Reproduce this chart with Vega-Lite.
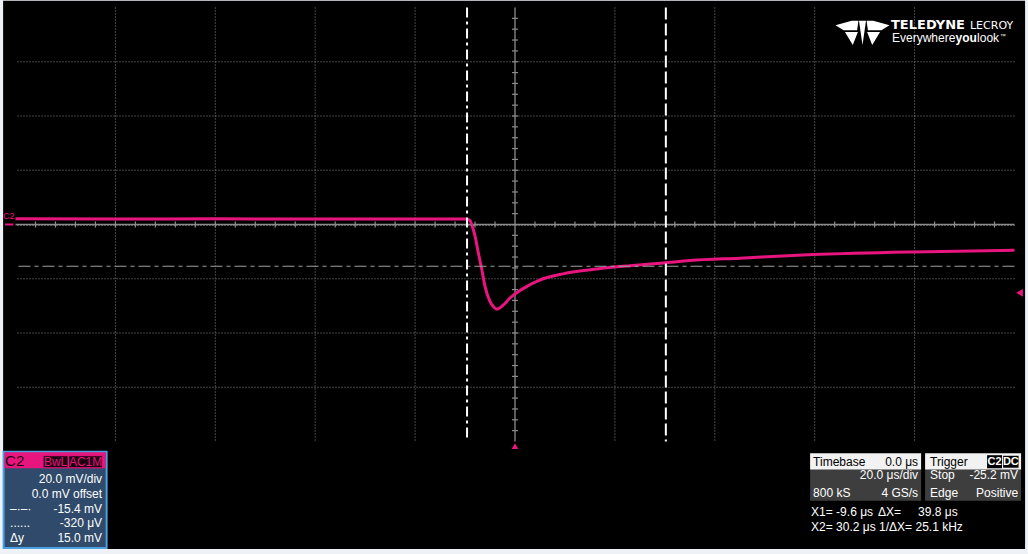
{
  "$schema": "https://vega.github.io/schema/vega-lite/v6.json",
  "width": 999,
  "height": 434,
  "autosize": "none",
  "padding": {"left": 15.5, "top": 7.5, "right": 13.5, "bottom": 112.5},
  "background": "#eef2f7",
  "config": {
    "view": {"stroke": "#808080", "strokeWidth": 1.5, "fill": "#000000"},
    "text": {"font": "Liberation Sans"}
  },
  "data": {"values": [{}]},
  "datasets": {
    "trace": [
      {"t": -100, "v": 2.1}, {"t": -80, "v": 2.0}, {"t": -60, "v": 2.1}, {"t": -40, "v": 2.0},
      {"t": -20, "v": 2.0}, {"t": -9.8, "v": 2.0}, {"t": -9.0, "v": 1.5}, {"t": -8.6, "v": -0.4},
      {"t": -8.0, "v": -4.3}, {"t": -7.33, "v": -10.5}, {"t": -6.65, "v": -16.6}, {"t": -6.0, "v": -22.8},
      {"t": -5.0, "v": -28.4}, {"t": -4.3, "v": -30.3}, {"t": -3.64, "v": -31.2}, {"t": -3.0, "v": -30.7},
      {"t": -2.3, "v": -29.6}, {"t": -1.0, "v": -27.1}, {"t": 0.7, "v": -24.7}, {"t": 2.4, "v": -22.8},
      {"t": 4.7, "v": -20.7}, {"t": 9.6, "v": -18.2}, {"t": 16.4, "v": -16.4}, {"t": 23.0, "v": -15.2},
      {"t": 29.7, "v": -14.2}, {"t": 35.0, "v": -13.3}, {"t": 45.0, "v": -12.4}, {"t": 59.7, "v": -11.1},
      {"t": 79.7, "v": -10.1}, {"t": 100, "v": -9.5}
    ],
    "xgrid": [{"t": -80}, {"t": -60}, {"t": -40}, {"t": -20}, {"t": 20}, {"t": 40}, {"t": 60}, {"t": 80}],
    "ygrid": [{"v": -60}, {"v": -40}, {"v": -20}, {"v": 20}, {"v": 40}, {"v": 60}],
    "xticks": [
      {"t": -96}, {"t": -92}, {"t": -88}, {"t": -84}, {"t": -80}, {"t": -76}, {"t": -72}, {"t": -68},
      {"t": -64}, {"t": -60}, {"t": -56}, {"t": -52}, {"t": -48}, {"t": -44}, {"t": -40}, {"t": -36},
      {"t": -32}, {"t": -28}, {"t": -24}, {"t": -20}, {"t": -16}, {"t": -12}, {"t": -8}, {"t": -4},
      {"t": 4}, {"t": 8}, {"t": 12}, {"t": 16}, {"t": 20}, {"t": 24}, {"t": 28}, {"t": 32},
      {"t": 36}, {"t": 40}, {"t": 44}, {"t": 48}, {"t": 52}, {"t": 56}, {"t": 60}, {"t": 64},
      {"t": 68}, {"t": 72}, {"t": 76}, {"t": 80}, {"t": 84}, {"t": 88}, {"t": 92}, {"t": 96}
    ],
    "yticks": [
      {"v": -76}, {"v": -72}, {"v": -68}, {"v": -64}, {"v": -60}, {"v": -56}, {"v": -52}, {"v": -48},
      {"v": -44}, {"v": -40}, {"v": -36}, {"v": -32}, {"v": -28}, {"v": -24}, {"v": -20}, {"v": -16},
      {"v": -12}, {"v": -8}, {"v": -4}, {"v": 4}, {"v": 8}, {"v": 12}, {"v": 16}, {"v": 20},
      {"v": 24}, {"v": 28}, {"v": 32}, {"v": 36}, {"v": 40}, {"v": 44}, {"v": 48}, {"v": 52},
      {"v": 56}, {"v": 60}, {"v": 64}, {"v": 68}, {"v": 72}, {"v": 76}
    ],
    "boxes": [
      {"g": "c2frame", "t": -102.38, "t2": -81.76, "v": -83.76, "v2": -119.26},
      {"g": "c2head", "t": -102.18, "t2": -81.96, "v": -84.0, "v2": -89.86},
      {"g": "pbadge", "t": -94.47, "t2": -89.47, "v": -85.24, "v2": -89.68},
      {"g": "pbadge", "t": -89.37, "t2": -82.56, "v": -85.24, "v2": -89.68},
      {"g": "thead", "t": 59.08, "t2": 81.30, "v": -84.31, "v2": -90.42},
      {"g": "thead", "t": 82.10, "t2": 101.32, "v": -84.31, "v2": -90.42},
      {"g": "tbody", "t": 59.08, "t2": 81.30, "v": -90.42, "v2": -101.88},
      {"g": "tbody", "t": 82.10, "t2": 101.32, "v": -90.42, "v2": -101.88},
      {"g": "wbadge", "t": 94.51, "t2": 97.52, "v": -85.05, "v2": -89.86},
      {"g": "dcbadge", "t": 97.62, "t2": 100.92, "v": -85.05, "v2": -89.86}
    ],
    "labels": [
      {"g": "cr", "t": -82.66, "v": -93.93, "text": "20.0 mV/div"},
      {"g": "cr", "t": -82.66, "v": -99.29, "text": "0.0 mV offset"},
      {"g": "cr", "t": -82.66, "v": -104.84, "text": "-15.4 mV"},
      {"g": "cr", "t": -82.66, "v": -110.20, "text": "-320 μV"},
      {"g": "cr", "t": -82.66, "v": -115.56, "text": "15.0 mV"},
      {"g": "cl", "t": -101.08, "v": -104.84, "text": "–·–·"},
      {"g": "cl", "t": -101.08, "v": -110.20, "text": "......"},
      {"g": "cl", "t": -101.08, "v": -115.56, "text": "Δy"},
      {"g": "hl", "t": 59.68, "v": -87.53, "text": "Timebase"},
      {"g": "hl", "t": 83.10, "v": -87.53, "text": "Trigger"},
      {"g": "hr", "t": 80.70, "v": -87.53, "text": "0.0 μs"},
      {"g": "wr", "t": 80.70, "v": -92.45, "text": "20.0 μs/div"},
      {"g": "wr", "t": 80.70, "v": -99.0, "text": "4 GS/s"},
      {"g": "wr", "t": 100.72, "v": -92.45, "text": "-25.2 mV"},
      {"g": "wr", "t": 100.72, "v": -99.0, "text": "Positive"},
      {"g": "wl", "t": 59.68, "v": -99.0, "text": "800 kS"},
      {"g": "wl", "t": 83.10, "v": -92.45, "text": "Stop"},
      {"g": "wl", "t": 83.10, "v": -99.0, "text": "Edge"},
      {"g": "wl", "t": 59.28, "v": -106.02, "text": "X1= -9.6 μs"},
      {"g": "wl", "t": 72.69, "v": -106.02, "text": "ΔX="},
      {"g": "wl", "t": 80.70, "v": -106.02, "text": "39.8 μs"},
      {"g": "wl", "t": 59.28, "v": -111.68, "text": "X2= 30.2 μs"},
      {"g": "wl", "t": 72.89, "v": -111.68, "text": "1/ΔX= 25.1 kHz"},
      {"g": "pb", "t": -91.97, "v": -87.46, "text": "BwL"},
      {"g": "pb", "t": -85.97, "v": -87.46, "text": "AC1M"},
      {"g": "wb", "t": 96.02, "v": -87.46, "text": "C2"},
      {"g": "wb", "t": 99.27, "v": -87.46, "text": "DC"},
      {"g": "big", "t": -102.08, "v": -87.35, "text": "C2"},
      {"g": "mark", "t": -102.48, "v": 3.14, "text": "C2"},
      {"g": "logob", "t": 75.27, "v": 72.1, "text": "TELEDYNE"},
      {"g": "logor", "t": 91.09, "v": 72.1, "text": "LECROY"},
      {"g": "logos", "t": 75.47, "v": 67.4, "text": "Everywhere"},
      {"g": "logosb", "t": 88.21, "v": 67.4, "text": "you"},
      {"g": "logos", "t": 92.51, "v": 67.4, "text": "look"},
      {"g": "tm", "t": 97.07, "v": 68.8, "text": "™"}
    ]
  },
  "encoding": {
    "x": {"type": "quantitative", "scale": {"domain": [-100, 100], "nice": false, "zero": false}, "axis": null},
    "y": {"type": "quantitative", "scale": {"domain": [-80, 80], "nice": false, "zero": false}, "axis": null}
  },
  "layer": [
    {
      "mark": {"type": "rect", "fill": "#000000"},
      "encoding": {"x": {"datum": -102.48}, "x2": {"datum": 102.12}, "y": {"datum": 82.47}, "y2": {"datum": -119.6}}
    },
    {
      "data": {"name": "xgrid"},
      "mark": {"type": "rule", "stroke": "#8a8a8a", "strokeWidth": 1, "strokeDash": [1, 2]},
      "encoding": {"x": {"field": "t", "type": "quantitative"}}
    },
    {
      "data": {"name": "ygrid"},
      "mark": {"type": "rule", "stroke": "#8a8a8a", "strokeWidth": 1, "strokeDash": [1, 2]},
      "encoding": {"y": {"field": "v", "type": "quantitative"}}
    },
    {
      "mark": {"type": "rule", "stroke": "#8c8c8c", "strokeWidth": 1.3},
      "encoding": {"x": {"datum": 0}}
    },
    {
      "mark": {"type": "rule", "stroke": "#8c8c8c", "strokeWidth": 1.3},
      "encoding": {"y": {"datum": 0}}
    },
    {
      "data": {"name": "xticks"},
      "mark": {"type": "tick", "orient": "vertical", "color": "#8c8c8c", "size": 6, "thickness": 1.2, "opacity": 1},
      "encoding": {"x": {"field": "t", "type": "quantitative"}, "y": {"datum": 0}}
    },
    {
      "data": {"name": "yticks"},
      "mark": {"type": "tick", "orient": "horizontal", "color": "#8c8c8c", "size": 6, "thickness": 1.2, "opacity": 1},
      "encoding": {"y": {"field": "v", "type": "quantitative"}, "x": {"datum": 0}}
    },
    {
      "data": {"name": "trace"},
      "mark": {"type": "line", "color": "#e8157f", "strokeWidth": 3, "interpolate": "monotone"},
      "encoding": {"x": {"field": "t", "type": "quantitative"}, "y": {"field": "v", "type": "quantitative"}}
    },
    {
      "mark": {"type": "rule", "stroke": "#a0a0a0", "strokeWidth": 1.2, "strokeDash": [12, 4, 4, 4]},
      "encoding": {"y": {"datum": -15.4}}
    },
    {
      "mark": {"type": "rule", "stroke": "#a0a0a0", "strokeWidth": 1, "strokeDash": [1, 2]},
      "encoding": {"y": {"datum": -0.32}}
    },
    {
      "mark": {"type": "rule", "stroke": "#ffffff", "strokeWidth": 2, "strokeDash": [10, 4, 3, 4]},
      "encoding": {"x": {"datum": -9.6}}
    },
    {
      "mark": {"type": "rule", "stroke": "#ffffff", "strokeWidth": 2, "strokeDash": [12, 4]},
      "encoding": {"x": {"datum": 30.2}}
    },
    {
      "mark": {"type": "point", "shape": "triangle-up", "filled": true, "color": "#e8157f", "size": 45, "opacity": 1},
      "encoding": {"x": {"datum": 0}, "y": {"datum": -81.7}}
    },
    {
      "mark": {"type": "point", "shape": "triangle-left", "filled": true, "color": "#e8157f", "size": 60, "opacity": 1},
      "encoding": {"x": {"datum": 101.0}, "y": {"datum": -25.2}}
    },
    {
      "mark": {"type": "rule", "stroke": "#e8157f", "strokeWidth": 2},
      "encoding": {"x": {"datum": -102.08}, "x2": {"datum": -100.42}, "y": {"datum": 0}}
    },
    {
      "mark": {"type": "point", "filled": true, "color": "#ffffff", "opacity": 1, "size": 2916,
        "shape": "M-1,-0.28L-0.4,-0.45L-0.15,-0.45L-0.2,-0.1L-0.7,-0.1Z M-0.65,-0.03L-0.17,-0.03L-0.36,0.45Z M-0.13,-0.45L0.13,-0.45L0,0.45Z M1,-0.28L0.4,-0.45L0.15,-0.45L0.2,-0.1L0.7,-0.1Z M0.65,-0.03L0.17,-0.03L0.36,0.45Z"},
      "encoding": {"x": {"datum": 69.57}, "y": {"datum": 70.63}}
    },
    {
      "data": {"name": "boxes"},
      "transform": [{"filter": "datum.g === 'c2frame'"}],
      "mark": {"type": "rect", "fill": "#2f4a6a", "stroke": "#4ba0e0", "strokeWidth": 2},
      "encoding": {"x": {"field": "t", "type": "quantitative"}, "x2": {"field": "t2"}, "y": {"field": "v", "type": "quantitative"}, "y2": {"field": "v2"}}
    },
    {
      "data": {"name": "boxes"},
      "transform": [{"filter": "datum.g === 'c2head'"}],
      "mark": {"type": "rect", "fill": "#e8157f"},
      "encoding": {"x": {"field": "t", "type": "quantitative"}, "x2": {"field": "t2"}, "y": {"field": "v", "type": "quantitative"}, "y2": {"field": "v2"}}
    },
    {
      "data": {"name": "boxes"},
      "transform": [{"filter": "datum.g === 'pbadge'"}],
      "mark": {"type": "rect", "fill": "#1c0010", "stroke": "#e8157f", "strokeWidth": 1},
      "encoding": {"x": {"field": "t", "type": "quantitative"}, "x2": {"field": "t2"}, "y": {"field": "v", "type": "quantitative"}, "y2": {"field": "v2"}}
    },
    {
      "data": {"name": "boxes"},
      "transform": [{"filter": "datum.g === 'thead'"}],
      "mark": {"type": "rect", "fill": "#f2f2f2"},
      "encoding": {"x": {"field": "t", "type": "quantitative"}, "x2": {"field": "t2"}, "y": {"field": "v", "type": "quantitative"}, "y2": {"field": "v2"}}
    },
    {
      "data": {"name": "boxes"},
      "transform": [{"filter": "datum.g === 'tbody'"}],
      "mark": {"type": "rect", "fill": "#3e3e3e"},
      "encoding": {"x": {"field": "t", "type": "quantitative"}, "x2": {"field": "t2"}, "y": {"field": "v", "type": "quantitative"}, "y2": {"field": "v2"}}
    },
    {
      "data": {"name": "boxes"},
      "transform": [{"filter": "datum.g === 'wbadge'"}],
      "mark": {"type": "rect", "fill": "#000000"},
      "encoding": {"x": {"field": "t", "type": "quantitative"}, "x2": {"field": "t2"}, "y": {"field": "v", "type": "quantitative"}, "y2": {"field": "v2"}}
    },
    {
      "data": {"name": "boxes"},
      "transform": [{"filter": "datum.g === 'dcbadge'"}],
      "mark": {"type": "rect", "fill": "#000000", "stroke": "#ffffff", "strokeWidth": 1},
      "encoding": {"x": {"field": "t", "type": "quantitative"}, "x2": {"field": "t2"}, "y": {"field": "v", "type": "quantitative"}, "y2": {"field": "v2"}}
    },
    {
      "data": {"name": "labels"},
      "transform": [{"filter": "datum.g === 'cr'"}],
      "mark": {"type": "text", "align": "right", "baseline": "middle", "fontSize": 12, "color": "#ffffff"},
      "encoding": {"x": {"field": "t", "type": "quantitative"}, "y": {"field": "v", "type": "quantitative"}, "text": {"field": "text"}}
    },
    {
      "data": {"name": "labels"},
      "transform": [{"filter": "datum.g === 'cl'"}],
      "mark": {"type": "text", "align": "left", "baseline": "middle", "fontSize": 12, "color": "#ffffff"},
      "encoding": {"x": {"field": "t", "type": "quantitative"}, "y": {"field": "v", "type": "quantitative"}, "text": {"field": "text"}}
    },
    {
      "data": {"name": "labels"},
      "transform": [{"filter": "datum.g === 'hl'"}],
      "mark": {"type": "text", "align": "left", "baseline": "middle", "fontSize": 12, "color": "#000000"},
      "encoding": {"x": {"field": "t", "type": "quantitative"}, "y": {"field": "v", "type": "quantitative"}, "text": {"field": "text"}}
    },
    {
      "data": {"name": "labels"},
      "transform": [{"filter": "datum.g === 'hr'"}],
      "mark": {"type": "text", "align": "right", "baseline": "middle", "fontSize": 12, "color": "#000000"},
      "encoding": {"x": {"field": "t", "type": "quantitative"}, "y": {"field": "v", "type": "quantitative"}, "text": {"field": "text"}}
    },
    {
      "data": {"name": "labels"},
      "transform": [{"filter": "datum.g === 'wr'"}],
      "mark": {"type": "text", "align": "right", "baseline": "middle", "fontSize": 12, "color": "#ffffff"},
      "encoding": {"x": {"field": "t", "type": "quantitative"}, "y": {"field": "v", "type": "quantitative"}, "text": {"field": "text"}}
    },
    {
      "data": {"name": "labels"},
      "transform": [{"filter": "datum.g === 'wl'"}],
      "mark": {"type": "text", "align": "left", "baseline": "middle", "fontSize": 12, "color": "#ffffff"},
      "encoding": {"x": {"field": "t", "type": "quantitative"}, "y": {"field": "v", "type": "quantitative"}, "text": {"field": "text"}}
    },
    {
      "data": {"name": "labels"},
      "transform": [{"filter": "datum.g === 'pb'"}],
      "mark": {"type": "text", "align": "center", "baseline": "middle", "fontSize": 12, "color": "#e8157f"},
      "encoding": {"x": {"field": "t", "type": "quantitative"}, "y": {"field": "v", "type": "quantitative"}, "text": {"field": "text"}}
    },
    {
      "data": {"name": "labels"},
      "transform": [{"filter": "datum.g === 'wb'"}],
      "mark": {"type": "text", "align": "center", "baseline": "middle", "fontSize": 11, "fontWeight": "bold", "color": "#ffffff"},
      "encoding": {"x": {"field": "t", "type": "quantitative"}, "y": {"field": "v", "type": "quantitative"}, "text": {"field": "text"}}
    },
    {
      "data": {"name": "labels"},
      "transform": [{"filter": "datum.g === 'big'"}],
      "mark": {"type": "text", "align": "left", "baseline": "middle", "fontSize": 15, "color": "#1c0010"},
      "encoding": {"x": {"field": "t", "type": "quantitative"}, "y": {"field": "v", "type": "quantitative"}, "text": {"field": "text"}}
    },
    {
      "data": {"name": "labels"},
      "transform": [{"filter": "datum.g === 'mark'"}],
      "mark": {"type": "text", "align": "left", "baseline": "middle", "fontSize": 9, "color": "#e8157f"},
      "encoding": {"x": {"field": "t", "type": "quantitative"}, "y": {"field": "v", "type": "quantitative"}, "text": {"field": "text"}}
    },
    {
      "data": {"name": "labels"},
      "transform": [{"filter": "datum.g === 'logob'"}],
      "mark": {"type": "text", "align": "left", "baseline": "alphabetic", "fontSize": 13, "fontWeight": "bold", "font": "DejaVu Sans", "color": "#ffffff"},
      "encoding": {"x": {"field": "t", "type": "quantitative"}, "y": {"field": "v", "type": "quantitative"}, "text": {"field": "text"}}
    },
    {
      "data": {"name": "labels"},
      "transform": [{"filter": "datum.g === 'logor'"}],
      "mark": {"type": "text", "align": "left", "baseline": "alphabetic", "fontSize": 11, "font": "DejaVu Sans", "color": "#ffffff"},
      "encoding": {"x": {"field": "t", "type": "quantitative"}, "y": {"field": "v", "type": "quantitative"}, "text": {"field": "text"}}
    },
    {
      "data": {"name": "labels"},
      "transform": [{"filter": "datum.g === 'logos'"}],
      "mark": {"type": "text", "align": "left", "baseline": "alphabetic", "fontSize": 12, "color": "#ffffff"},
      "encoding": {"x": {"field": "t", "type": "quantitative"}, "y": {"field": "v", "type": "quantitative"}, "text": {"field": "text"}}
    },
    {
      "data": {"name": "labels"},
      "transform": [{"filter": "datum.g === 'logosb'"}],
      "mark": {"type": "text", "align": "left", "baseline": "alphabetic", "fontSize": 12, "fontWeight": "bold", "color": "#ffffff"},
      "encoding": {"x": {"field": "t", "type": "quantitative"}, "y": {"field": "v", "type": "quantitative"}, "text": {"field": "text"}}
    },
    {
      "data": {"name": "labels"},
      "transform": [{"filter": "datum.g === 'tm'"}],
      "mark": {"type": "text", "align": "left", "baseline": "alphabetic", "fontSize": 6, "color": "#ffffff"},
      "encoding": {"x": {"field": "t", "type": "quantitative"}, "y": {"field": "v", "type": "quantitative"}, "text": {"field": "text"}}
    }
  ]
}
